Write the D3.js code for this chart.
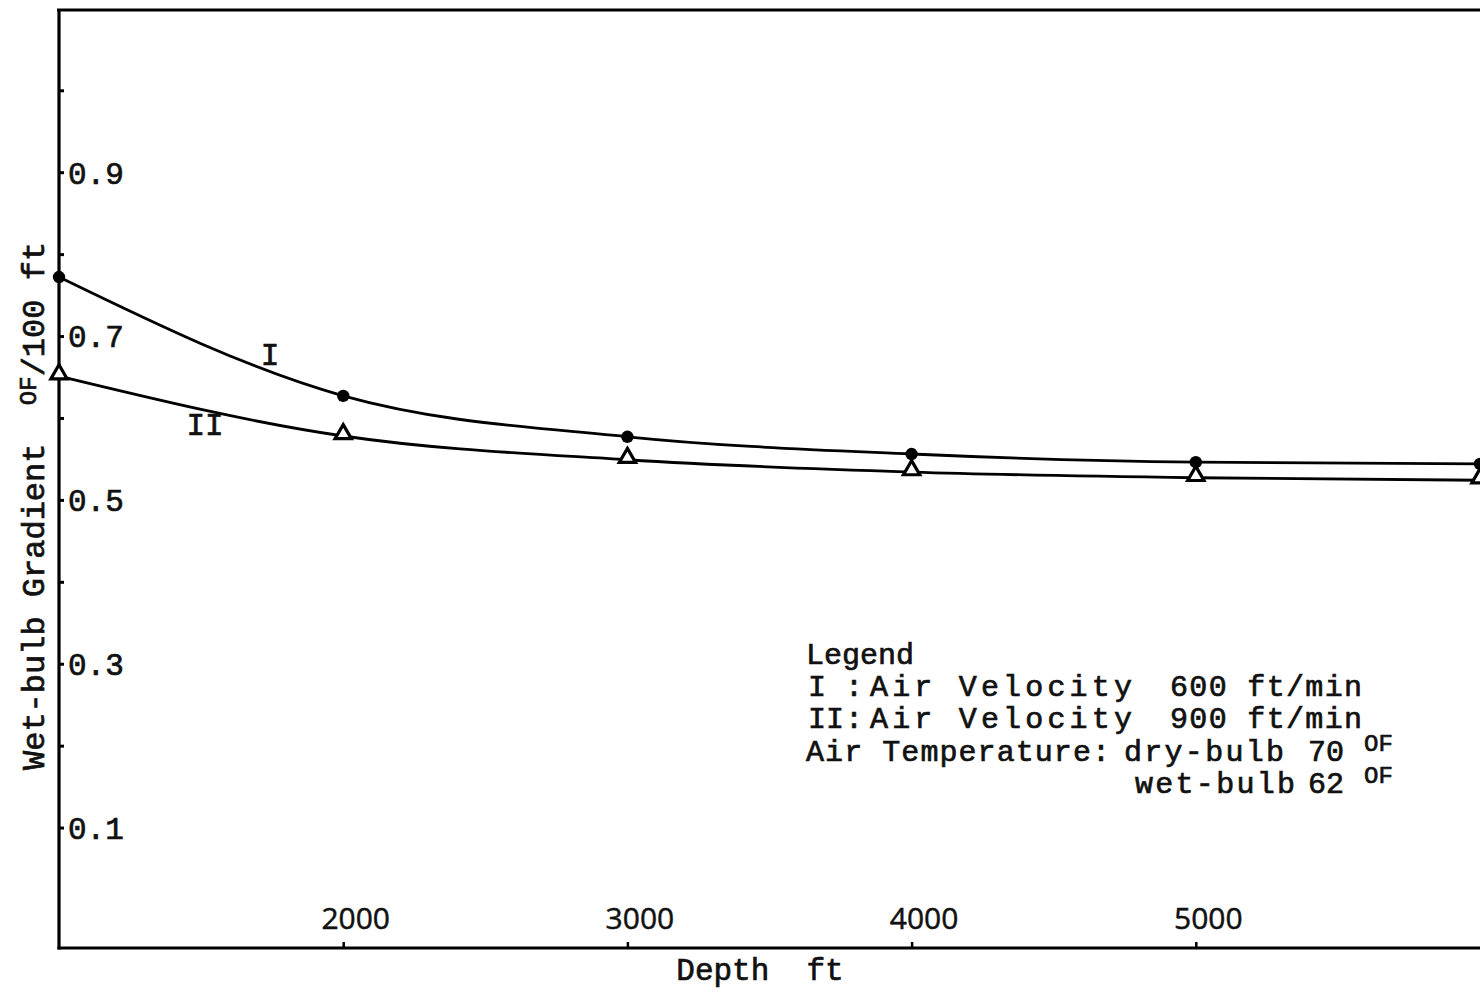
<!DOCTYPE html>
<html>
<head>
<meta charset="utf-8">
<script src="https://cdn.jsdelivr.net/npm/d3@7"></script>
<style>
  html, body { margin: 0; padding: 0; background: #fff; }
  svg { display: block; }
  text { font-family: "Liberation Mono", "DejaVu Sans Mono", monospace; fill: #111; stroke: #111; stroke-width: 0.7px; }
</style>
</head>
<body>
<svg id="chart" width="1480" height="992"></svg>
<script>
// ---- data ----
const depths = [1000, 2000, 3000, 4000, 5000, 6000];
const seriesI = [0.772, 0.627, 0.577, 0.556, 0.546, 0.544];   // Air velocity 600 ft/min (dots)
const seriesII = [0.651, 0.578, 0.549, 0.534, 0.527, 0.524];  // Air velocity 900 ft/min (triangles)
const xTickValues = [2000, 3000, 4000, 5000];
const xTickLabels = ["2000", "3000", "4000", "5000"];
const yTickValues = [0.1, 0.2, 0.3, 0.4, 0.5, 0.6, 0.7, 0.8, 0.9, 1.0];
const yTickLabels = ["0.1", "", "0.3", "", "0.5", "", "0.7", "", "0.9", ""];
const xTitle = "Depth  ft";
const legendTitle = "Legend";
const legendRows = [
  { key: "I", desc: "Air Velocity", value: "600 ft/min" },
  { key: "II", desc: "Air Velocity", value: "900 ft/min" }
];
const tempLabel = "Air Temperature:";
const tempRows = [
  { name: "dry-bulb", value: "70" },
  { name: "wet-bulb", value: "62" }
];

// ---- layout ----
const svg = d3.select("#chart");
const mLeft = 59, mRight = 1480, mTop = 10, mBottom = 948;

const x = d3.scaleLinear().domain([1000, 6000]).range([mLeft, mRight]);
const y = d3.scaleLinear().domain([-0.047, 1.098]).range([mBottom, mTop]);

// frame: top border, left axis, bottom axis
svg.append("line").attr("x1", mLeft - 2).attr("x2", mRight).attr("y1", mTop).attr("y2", mTop)
  .attr("stroke", "#000").attr("stroke-width", 3.2);
svg.append("line").attr("x1", mLeft).attr("x2", mLeft).attr("y1", mTop).attr("y2", mBottom + 1.5)
  .attr("stroke", "#000").attr("stroke-width", 3.2);
svg.append("line").attr("x1", mLeft - 1.5).attr("x2", mRight).attr("y1", mBottom).attr("y2", mBottom)
  .attr("stroke", "#000").attr("stroke-width", 3);

// y axis ticks
const yAxis = d3.axisRight(y).tickValues(yTickValues).tickSize(5)
  .tickFormat((d, i) => yTickLabels[i]);
const gy = svg.append("g").attr("transform", `translate(${mLeft},0)`).call(yAxis);
gy.select(".domain").remove();
gy.selectAll(".tick line").attr("stroke", "#000").attr("stroke-width", 3);
gy.selectAll(".tick text").attr("x", 9).attr("dy", "0.35em")
  .style("font-size", "31px").style("font-family", "Liberation Mono");

// x axis ticks (labels in a rounder, lighter face as in the original)
const xAxis = d3.axisTop(x).tickValues(xTickValues).tickSize(6)
  .tickFormat((d, i) => xTickLabels[i]);
const gx = svg.append("g").attr("transform", `translate(0,${mBottom})`).call(xAxis);
gx.select(".domain").remove();
gx.selectAll(".tick line").attr("stroke", "#000").attr("stroke-width", 2.5);
gx.selectAll(".tick text").attr("y", -19).attr("dx", 12).attr("dy", 0)
  .style("font-size", "30px").style("font-family", "'Open Sans', 'DejaVu Sans', sans-serif")
  .style("stroke-width", "0.5px");

// curves
const line = d3.line().x((d, i) => x(depths[i])).y(d => y(d)).curve(d3.curveMonotoneX);
[seriesI, seriesII].forEach(s => {
  svg.append("path").datum(s).attr("d", line)
    .attr("fill", "none").attr("stroke", "#000").attr("stroke-width", 2.8);
});

// markers: series I dots
svg.append("g").selectAll("circle").data(seriesI).join("circle")
  .attr("cx", (d, i) => x(depths[i])).attr("cy", d => y(d)).attr("r", 6.2).attr("fill", "#000");

// markers: series II open triangles
const tri = d3.symbol().type(d3.symbolTriangle).size(115);
svg.append("g").selectAll("path").data(seriesII).join("path")
  .attr("d", tri)
  .attr("transform", (d, i) => `translate(${x(depths[i])},${y(d) - 2})`)
  .attr("fill", "#fff").attr("stroke", "#000").attr("stroke-width", 3.2);

// curve labels
svg.append("text").attr("x", 270).attr("y", 354).attr("text-anchor", "middle").attr("dy", "0.35em")
  .style("font-size", "31px").text(legendRows[0].key);
svg.append("text").attr("x", 205).attr("y", 424).attr("text-anchor", "middle").attr("dy", "0.35em")
  .style("font-size", "31px").text(legendRows[1].key);

// axis titles
svg.append("text").attr("x", 760).attr("y", 980).attr("text-anchor", "middle")
  .style("font-size", "31px").attr("xml:space", "preserve").text(xTitle);

const yt = svg.append("text").attr("transform", "translate(33,770) rotate(-90)")
  .attr("dy", "0.35em").attr("xml:space", "preserve").style("font-size", "32px");
yt.append("tspan").text("Wet-bulb Gradient  ");
yt.append("tspan").attr("dy", "-8").style("font-size", "24px").text("OF");
yt.append("tspan").attr("dy", "8").text("/100 ft");

// legend
const fs = "30px";
svg.append("text").attr("x", 806).attr("y", 664).style("font-size", fs).text(legendTitle);
legendRows.forEach((r, i) => {
  const yy = 696 + i * 32;
  svg.append("text").attr("x", 808).attr("y", yy).style("font-size", fs).text(r.key);
  svg.append("text").attr("x", 845).attr("y", yy).style("font-size", fs).text(":");
  svg.append("text").attr("x", 870).attr("y", yy).style("font-size", fs)
    .attr("textLength", 262).attr("lengthAdjust", "spacing").text(r.desc);
  svg.append("text").attr("x", 1170).attr("y", yy).style("font-size", fs)
    .attr("textLength", 192).attr("lengthAdjust", "spacing").text(r.value);
});
svg.append("text").attr("x", 806).attr("y", 761).style("font-size", fs)
  .attr("textLength", 304).attr("lengthAdjust", "spacing").text(tempLabel);
tempRows.forEach((r, i) => {
  const yy = 761 + i * 32;
  const nx = i === 0 ? 1124 : 1135;
  svg.append("text").attr("x", nx).attr("y", yy).style("font-size", fs)
    .attr("textLength", 160).attr("lengthAdjust", "spacing").text(r.name);
  svg.append("text").attr("x", 1308).attr("y", yy).style("font-size", fs).text(r.value);
  svg.append("text").attr("x", 1364).attr("y", yy - 10).style("font-size", "24px").text("OF");
});
</script>
</body>
</html>
